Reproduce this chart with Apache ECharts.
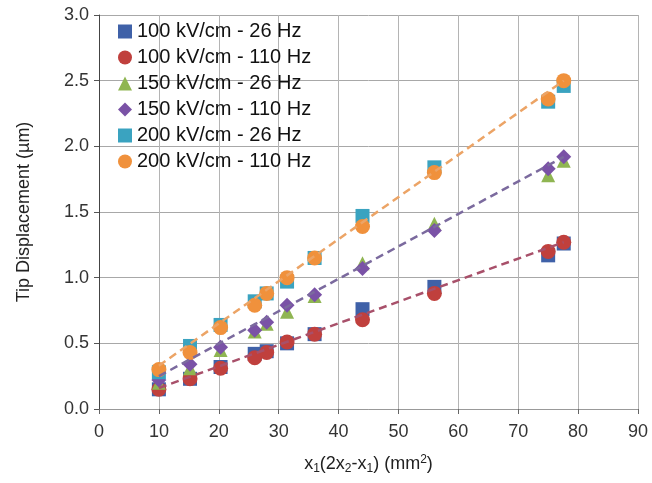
<!DOCTYPE html>
<html>
<head>
<meta charset="utf-8">
<script src="https://cdn.jsdelivr.net/npm/echarts@6/dist/echarts.min.js"></script>
<style>
html,body{margin:0;padding:0;background:#fff;}
#main{width:652px;height:483px;}
</style>
</head>
<body>
<div id="main"></div>
<script>
// x positions shared by all series
var xVals = [10, 15.2, 20.3, 26, 28, 31.4, 36, 44, 56, 75, 77.6];

var s100_26  = [0.15, 0.23, 0.32, 0.42, 0.44, 0.50, 0.57, 0.76, 0.93, 1.17, 1.26];
var s100_110 = [0.15, 0.23, 0.31, 0.39, 0.43, 0.51, 0.57, 0.68, 0.88, 1.20, 1.27];
var s150_26  = [0.20, 0.31, 0.45, 0.59, 0.65, 0.74, 0.86, 1.11, 1.41, 1.78, 1.89];
var s150_110 = [0.22, 0.34, 0.47, 0.60, 0.66, 0.79, 0.87, 1.07, 1.36, 1.83, 1.92];
var s200_26  = [0.28, 0.48, 0.64, 0.82, 0.88, 0.97, 1.15, 1.47, 1.84, 2.34, 2.46];
var s200_110 = [0.30, 0.43, 0.62, 0.79, 0.88, 1.00, 1.15, 1.39, 1.80, 2.36, 2.50];

var names = ['100 kV/cm - 26 Hz', '100 kV/cm - 110 Hz', '150 kV/cm - 26 Hz',
             '150 kV/cm - 110 Hz', '200 kV/cm - 26 Hz', '200 kV/cm - 110 Hz'];

// dashed trend lines, ends
var trendX    = [10, 77.6];
var trend100  = [0.16, 1.27];
var trend150  = [0.25, 1.92];
var trend200  = [0.33, 2.50];

function pairs(xs, ys){
	var out = [];
	for (var i = 0; i < ys.length; i++) out.push([xs[i], ys[i]]);
	return out;
}

var font = '"Liberation Sans", Arial, sans-serif';

function scat(name, data, symbol, color, size){
	return {
		name: name, type: 'scatter', symbol: symbol, symbolSize: size,
		itemStyle: { color: color, opacity: 1 },
		data: pairs(xVals, data)
	};
}
function trend(data, color){
	return {
		type: 'line', symbol: 'none', silent: true, z: 3,
		lineStyle: { color: color, width: 2.5, type: [8, 5] },
		data: pairs(trendX, data)
	};
}

var myChart = echarts.init(document.getElementById('main'));
var option = {
	animation: false,
	textStyle: { fontFamily: font },
	grid: { left: 99, right: 14, top: 15, bottom: 74 },
	legend: {
		orient: 'vertical', left: 113, top: 16,
		itemWidth: 14, itemHeight: 14, itemGap: 5,
		textStyle: { fontSize: 20, color: '#111', lineHeight: 21, fontFamily: font },
		data: names
	},
	xAxis: {
		type: 'value', min: 0, max: 90, interval: 10,
		name: 'x{sub|1}(2x{sub|2}-x{sub|1}) (mm{sup|2})',
		nameLocation: 'middle', nameGap: 44,
		nameTextStyle: {
			fontSize: 18, color: '#222', fontFamily: font,
			rich: {
				sub: { fontSize: 12, padding: [10, 0, 0, 0], color: '#222', fontFamily: font },
				sup: { fontSize: 12, padding: [0, 0, 9, 0], color: '#222', fontFamily: font }
			}
		},
		axisLine: { show: true, lineStyle: { color: '#999', width: 1 } },
		axisTick: { show: true, length: 5, lineStyle: { color: '#666' } },
		axisLabel: { fontSize: 18, color: '#333', margin: 14, fontFamily: font },
		splitLine: { show: true, lineStyle: { color: '#b4b4b4', width: 1 } }
	},
	yAxis: {
		type: 'value', min: 0, max: 3, interval: 0.5,
		name: 'Tip Displacement (µm)',
		nameLocation: 'middle', nameRotate: 90, nameGap: 66,
		nameTextStyle: { fontSize: 18, color: '#222', fontFamily: font },
		axisLine: { show: true, lineStyle: { color: '#444', width: 1 } },
		axisTick: { show: true, length: 5, lineStyle: { color: '#555' } },
		axisLabel: {
			fontSize: 18, color: '#333', margin: 10, fontFamily: font,
			formatter: function(v){ return v.toFixed(1); }
		},
		splitLine: { show: true, lineStyle: { color: '#a8a8a8', width: 1 } }
	},
	series: [
		scat(names[0], s100_26,  'rect',     '#3f61a8', 14),
		scat(names[1], s100_110, 'circle',   '#c0403d', 15),
		scat(names[2], s150_26,  'triangle', '#8fb552', 14),
		scat(names[3], s150_110, 'diamond',  '#7a52a6', 15),
		scat(names[4], s200_26,  'rect',     '#3aa3c0', 14),
		scat(names[5], s200_110, 'circle',   '#f0913c', 15),
		trend(trend100, '#a8506a'),
		trend(trend150, '#7b6a9e'),
		trend(trend200, '#eca466')
	]
};
myChart.setOption(option);
</script>
</body>
</html>
